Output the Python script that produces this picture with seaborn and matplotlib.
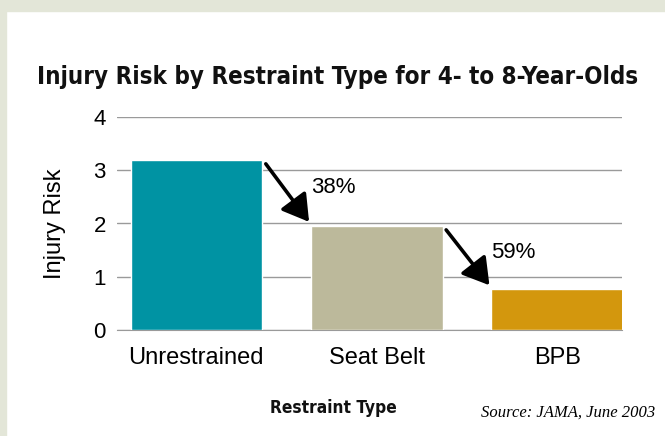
import matplotlib
matplotlib.use("Agg")
import matplotlib.pyplot as plt
from matplotlib.patches import Rectangle
from matplotlib import font_manager
import seaborn as sns
import pandas as pd

# data
restraint_types = ["Unrestrained", "Seat Belt", "BPB"]
injury_risk = [3.2, 1.96, 0.77]
reduction_labels = ["38%", "59%"]
bar_colors = ["#0093a3", "#bcb99b", "#d3970d"]

title = "Injury Risk by Restraint Type for 4- to 8-Year-Olds"
source_note = "Source: JAMA, June 2003"

sns.set_style("white")
plt.rcParams['font.family'] = ['Liberation Sans', 'DejaVu Sans']
plt.rcParams['text.color'] = 'black'
plt.rcParams['axes.labelcolor'] = 'black'
plt.rcParams['xtick.color'] = 'black'
plt.rcParams['ytick.color'] = 'black'


def condensed_bold():
    # look for an upright heavy condensed sans face, otherwise plain bold Liberation Sans
    good = []
    for f in font_manager.fontManager.ttflist:
        st = str(f.stretch).lower()
        w = f.weight if isinstance(f.weight, int) else 700 if "bold" in str(f.weight) else 400
        nm = f.name.lower()
        if ("condensed" in st or "narrow" in st) and f.style == "normal" and w >= 600:
            if "mono" not in nm and "serif" not in nm and "italic" not in f.fname.lower():
                good.append(f)
    if good:
        pref = ["noto sans", "dejavu sans", "roboto", "open sans", "liberation sans narrow"]
        good.sort(key=lambda f: (pref.index(f.name.lower()) if f.name.lower() in pref else 9,
                                 "extra" in str(f.stretch) or "ultra" in str(f.stretch),
                                 abs((f.weight if isinstance(f.weight, int) else 700) - 900)))
        return font_manager.FontProperties(fname=good[0].fname)
    return font_manager.FontProperties(family="Liberation Sans", weight="bold")


df = pd.DataFrame({"type": restraint_types, "risk": injury_risk})

fig = plt.figure(figsize=(6.65, 4.36), dpi=100)
# light frame on the top and left edges
fig.patches.append(Rectangle((0, 1 - 11 / 436), 1, 11 / 436, transform=fig.transFigure,
                             color="#e3e6d8", zorder=0))
fig.patches.append(Rectangle((0, 0), 6 / 665, 1, transform=fig.transFigure,
                             color="#e3e6d8", zorder=0))

ax = fig.add_axes([117 / 665, 106 / 436, 505 / 665, 213 / 436])
bar_w = 0.73
sns.barplot(data=df, x="type", y="risk", hue="type", palette=bar_colors,
            order=restraint_types, hue_order=restraint_types,
            width=bar_w, saturation=1, legend=False, ax=ax, zorder=3)

ax.set_ylim(0, 4)
ax.set_xlim(-0.44, 2.36)
ax.set_yticks([0, 1, 2, 3, 4])
ax.yaxis.grid(True, color="#9a9a9a", lw=1)
ax.set_axisbelow(True)
for s in ["top", "right", "left"]:
    ax.spines[s].set_visible(False)
ax.spines["bottom"].set_color("#9a9a9a")
ax.tick_params(axis="y", length=0, pad=8, labelsize=16)
ax.tick_params(axis="x", length=0, pad=12, labelsize=17)
ax.set_xlabel("")
ax.set_ylabel("Injury Risk", fontsize=17, labelpad=20)

# arrows showing the drop from one bar to the next
for i, lab in enumerate(reduction_labels):
    x0 = i + bar_w / 2 + 0.02
    y0 = injury_risk[i] - 0.08
    x1 = i + 1 - bar_w / 2 - 0.01
    y1 = injury_risk[i + 1] + 0.07
    ax.annotate("", xy=(x1, y1), xytext=(x0, y0),
                arrowprops=dict(arrowstyle="-|>,head_length=0.5,head_width=0.3",
                                color="black", lw=2.6,
                                mutation_scale=32, shrinkA=0, shrinkB=0),
                zorder=5)
    ax.text(x1 + 0.01, (y0 + y1) / 2 + 0.1, lab, fontsize=16,
            ha="left", va="center")

fp = condensed_bold()
t_title = fig.text(37 / 665, 1 - 77 / 436, title, fontproperties=fp, fontsize=20,
                   ha="left", va="center", color="#111111")
t_xlab = fig.text(333 / 665, 1 - 408 / 436, "Restraint Type", fontproperties=fp.copy(),
                  fontsize=16, ha="center", va="center", color="#111111")
fig.text(655 / 665, 1 - 413 / 436, source_note, fontsize=12, style="italic",
         family=["Liberation Serif", "DejaVu Serif"], ha="right", va="center")

# size the two bold labels to the widths seen in the reference
renderer = fig.canvas.get_renderer()
for t, target in [(t_title, 603), (t_xlab, 127)]:
    w = t.get_window_extent(renderer).width
    t.set_fontsize(t.get_fontsize() * target / w)

fig.savefig("out.png", dpi=100, facecolor="white")
